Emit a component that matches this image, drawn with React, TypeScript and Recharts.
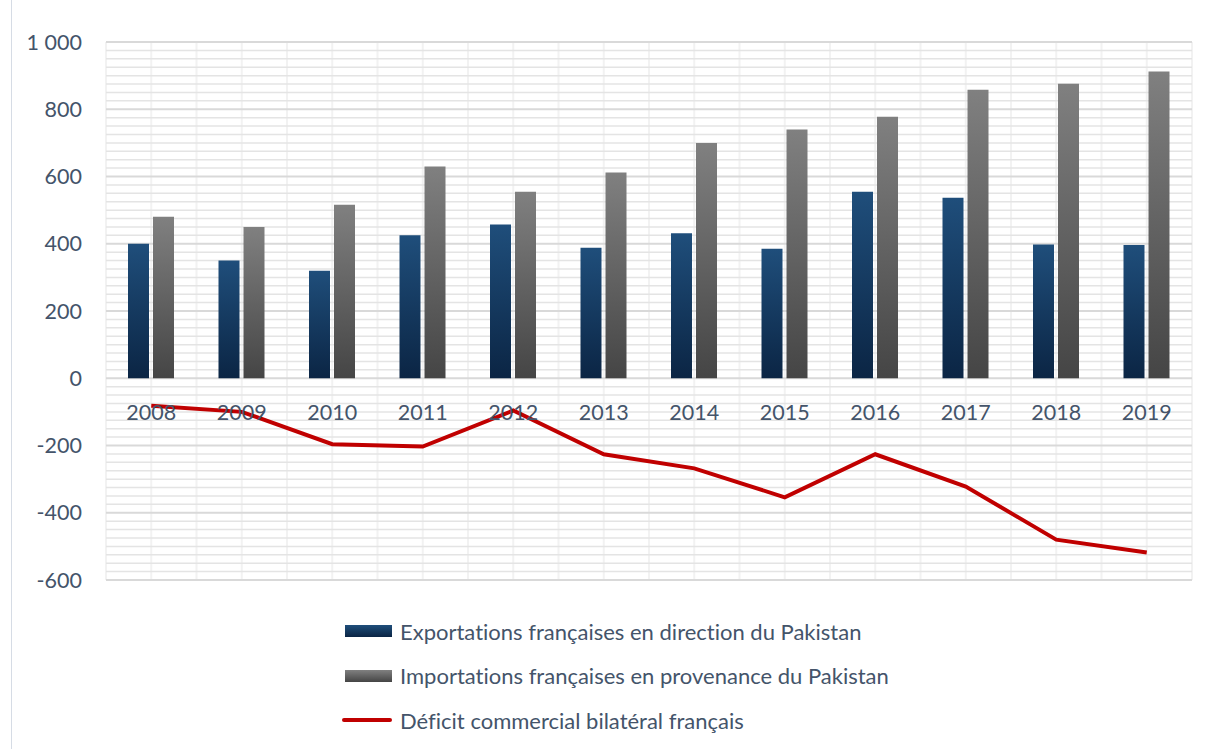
import { Bar, CartesianGrid, ComposedChart, Line, XAxis, YAxis } from "recharts";

const years = ["2008", "2009", "2010", "2011", "2012", "2013", "2014", "2015", "2016", "2017", "2018", "2019"];
const exportsFr = [400, 350, 320, 425, 457, 388, 431, 385, 555, 537, 398, 396];
const importsFr = [480, 450, 516, 630, 555, 612, 700, 740, 778, 858, 876, 912];
const deficit = [-82, -100, -196, -203, -96, -226, -268, -354, -226, -322, -480, -518];

const yTicks = [-600, -400, -200, 0, 200, 400, 600, 800, 1000];
const yTickLabels = ["-600", "-400", "-200", "0", "200", "400", "600", "800", "1 000"];

const seriesNames = [
  "Exportations françaises en direction du Pakistan",
  "Importations françaises en provenance du Pakistan",
  "Déficit commercial bilatéral français",
];

const data = years.map((year, i) => ({
  year,
  exports: exportsFr[i],
  imports: importsFr[i],
  deficit: deficit[i],
}));

const Y_MIN = -600;
const Y_MAX = 1000;
const CHART_W = 1207;
const CHART_H = 610;
const MARGIN = { top: 42, right: 15, left: 0, bottom: 0 };
const X_AXIS_H = 30;
const PLOT_H = CHART_H - MARGIN.top - MARGIN.bottom - X_AXIS_H;
const zeroFromBottom = (PLOT_H * (0 - Y_MIN)) / (Y_MAX - Y_MIN);

const textColor = "#44546a";
const font = "Lato, 'Open Sans', sans-serif";

// minor gridlines every 25, majors every 200
const minorTicks = Array.from({ length: (Y_MAX - Y_MIN) / 25 + 1 }, (_, i) => Y_MIN + i * 25);

const yPos = (offset: any, v: number) => offset.top + ((Y_MAX - v) / (Y_MAX - Y_MIN)) * offset.height;

function YearTick(props: any) {
  const { x, y, payload } = props;
  return (
    <text
      x={x}
      y={y - zeroFromBottom + 32}
      textAnchor="middle"
      dominantBaseline="central"
      fill={textColor}
      fontSize={21.5}
      fontFamily={font}
    >
      {payload.value}
    </text>
  );
}

export default function App() {
  return (
    <div
      style={{
        position: "absolute",
        left: 0,
        top: 0,
        width: 1207,
        height: 749,
        background: "#fff",
        overflow: "hidden",
        fontFamily: font,
        fontVariantLigatures: "none",
      }}
    >
      <div
        style={{
          position: "absolute",
          left: 11,
          top: -2,
          width: 1300,
          height: 800,
          borderLeft: "1px solid #d6dce5",
        }}
      />
      <ComposedChart
        width={CHART_W}
        height={CHART_H}
        data={data}
        margin={MARGIN}
        barSize={21}
        barGap={4}
        style={{ position: "absolute", left: 0, top: 0 }}
      >
        <defs>
          <linearGradient id="gradExp" x1="0" y1="0" x2="0" y2="1">
            <stop offset="0%" stopColor="#1f4e7b" />
            <stop offset="100%" stopColor="#0b2544" />
          </linearGradient>
          <linearGradient id="gradImp" x1="0" y1="0" x2="0" y2="1">
            <stop offset="0%" stopColor="#808080" />
            <stop offset="100%" stopColor="#454545" />
          </linearGradient>
        </defs>
        <CartesianGrid
          yAxisId="left"
          horizontal={false}
          stroke="#f2f2f2"
          strokeWidth={2}
          verticalCoordinatesGenerator={({ offset }: any) =>
            Array.from({ length: 25 }, (_, i) => offset.left + (i * offset.width) / 24)
          }
        />
        <CartesianGrid
          yAxisId="left"
          vertical={false}
          stroke="#e4e4e4"
          strokeWidth={1.5}
          horizontalCoordinatesGenerator={({ offset }: any) =>
            minorTicks.filter((t) => t % 200 !== 0).map((t) => yPos(offset, t))
          }
        />
        <CartesianGrid
          yAxisId="left"
          vertical={false}
          stroke="#d9d9d9"
          strokeWidth={2}
          horizontalCoordinatesGenerator={({ offset }: any) => yTicks.map((t) => yPos(offset, t))}
        />
        <XAxis
          dataKey="year"
          height={X_AXIS_H}
          axisLine={false}
          tickLine={false}
          tickSize={0}
          tick={<YearTick />}
          interval={0}
        />
        <YAxis
          yAxisId="left"
          width={106}
          domain={[Y_MIN, Y_MAX]}
          ticks={yTicks}
          interval={0}
          axisLine={false}
          tickLine={false}
          tickSize={0}
          tickMargin={24}
          tick={{ fill: textColor, fontSize: 21.5, fontFamily: font }}
          tickFormatter={(v: number) => yTickLabels[yTicks.indexOf(v)] ?? String(v)}
        />
        <Bar yAxisId="left" dataKey="exports" name={seriesNames[0]} fill="url(#gradExp)" isAnimationActive={false} />
        <Bar yAxisId="left" dataKey="imports" name={seriesNames[1]} fill="url(#gradImp)" isAnimationActive={false} />
        <Line
          yAxisId="left"
          type="linear"
          dataKey="deficit"
          name={seriesNames[2]}
          stroke="#c00000"
          strokeWidth={4}
          dot={false}
          isAnimationActive={false}
        />
      </ComposedChart>

      <div style={{ position: "absolute", left: 342, top: 609 }}>
        {seriesNames.map((name, i) => (
          <div key={name} style={{ display: "flex", alignItems: "center", height: 44.5 }}>
            <div style={{ width: 50, height: 12, display: "flex", alignItems: "center", justifyContent: "flex-end" }}>
              {i < 2 ? (
                <div
                  style={{
                    width: 47,
                    height: 12,
                    background:
                      i === 0
                        ? "linear-gradient(#1f4e7b, #0b2544)"
                        : "linear-gradient(#808080, #454545)",
                  }}
                />
              ) : (
                <div style={{ width: 50, height: 4, borderRadius: 2, background: "#c00000" }} />
              )}
            </div>
            <span style={{ marginLeft: 8, fontSize: 22, color: textColor, whiteSpace: "nowrap" }}>{name}</span>
          </div>
        ))}
      </div>
    </div>
  );
}
